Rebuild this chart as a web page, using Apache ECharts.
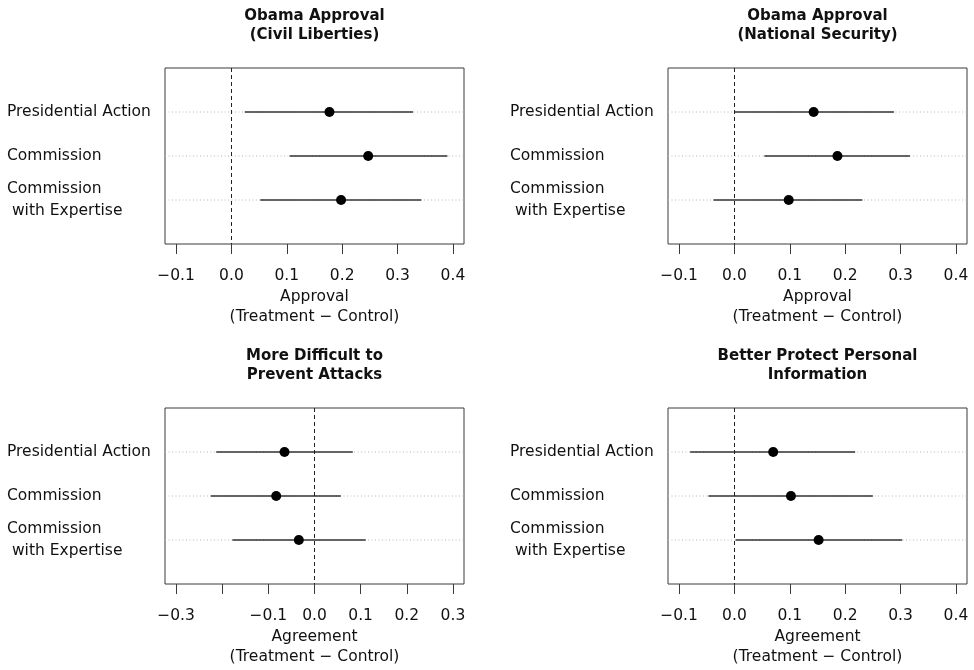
<!DOCTYPE html>
<html>
<head>
<meta charset="utf-8">
<script src="https://cdn.jsdelivr.net/npm/echarts@6/dist/echarts.min.js"></script>
<style>html,body{margin:0;padding:0;background:#fff}#c{width:974px;height:670px}</style>
</head>
<body>
<div id="c"></div>
<script>
// ---- data ----
const categories = ['Presidential Action', 'Commission', 'Commission\n with Expertise'];

const titles = [
  'Obama Approval\n(Civil Liberties)',
  'Obama Approval\n(National Security)',
  'More Difficult to\nPrevent Attacks',
  'Better Protect Personal\nInformation'
];
const axisNames = [
  'Approval\n(Treatment \u2212 Control)',
  'Approval\n(Treatment \u2212 Control)',
  'Agreement\n(Treatment \u2212 Control)',
  'Agreement\n(Treatment \u2212 Control)'
];

const civilEst = [0.177, 0.247, 0.198];
const civilLo  = [0.024, 0.105, 0.052];
const civilHi  = [0.328, 0.390, 0.343];

const nationalEst = [0.143, 0.186, 0.098];
const nationalLo  = [0.000, 0.054, -0.038];
const nationalHi  = [0.288, 0.317, 0.231];

const attacksEst = [-0.065, -0.083, -0.034];
const attacksLo  = [-0.213, -0.225, -0.178];
const attacksHi  = [0.083, 0.057, 0.111];

const infoEst = [0.070, 0.102, 0.152];
const infoLo  = [-0.080, -0.047, 0.002];
const infoHi  = [0.218, 0.250, 0.303];

const approvalTicks = [-0.1, 0, 0.1, 0.2, 0.3, 0.4];
const attacksTicks = [-0.3, -0.2, -0.1, 0, 0.1, 0.2, 0.3];
const attacksHiddenLabels = [-0.2];

// ---- layout / styling ----
const panels = [
  {est: civilEst, lo: civilLo, hi: civilHi, ticks: approvalTicks, hidden: []},
  {est: nationalEst, lo: nationalLo, hi: nationalHi, ticks: approvalTicks, hidden: []},
  {est: attacksEst, lo: attacksLo, hi: attacksHi, ticks: attacksTicks, hidden: attacksHiddenLabels},
  {est: infoEst, lo: infoLo, hi: infoHi, ticks: approvalTicks, hidden: []}
];
const boxes = [
  {left: 165, top: 68}, {left: 668, top: 68},
  {left: 165, top: 408}, {left: 668, top: 408}
];
const BW = 299, BH = 176;
const FONT = '"DejaVu Sans", "Liberation Sans", Arial, sans-serif';
const TXT = '#111';

const option = {
  animation: false,
  backgroundColor: '#fff',
  title: [], grid: [], xAxis: [], yAxis: [], series: []
};

function fmt(v) {
  return v.toFixed(1).replace('-', '\u2212');
}

panels.forEach((p, i) => {
  const b = boxes[i];
  const tmin = p.ticks[0], tmax = p.ticks[p.ticks.length - 1];
  const pad = (tmax - tmin) * 0.04;
  option.title.push({
    text: titles[i],
    left: b.left + BW / 2,
    top: b.top - 62,
    textAlign: 'center',
    padding: 0,
    textStyle: {fontFamily: FONT, fontWeight: 'bold', fontSize: 15, lineHeight: 19.5, color: TXT}
  });
  option.grid.push({
    left: b.left, top: b.top, width: BW, height: BH,
    show: true, borderColor: '#3a3a3a', borderWidth: 1, backgroundColor: 'transparent'
  });
  option.xAxis.push({
    type: 'value', gridIndex: i, min: tmin - pad, max: tmax + pad, position: 'bottom',
    axisLine: {show: false, onZero: false},
    splitLine: {show: false},
    axisTick: {show: true, inside: false, length: 10, customValues: p.ticks,
      lineStyle: {color: '#3a3a3a', width: 1}},
    axisLabel: {customValues: p.ticks, margin: 23, fontFamily: FONT, fontSize: 15.5,
      lineHeight: 18, color: TXT,
      formatter: v => (p.hidden.some(h => Math.abs(h - v) < 1e-9) ? '' : fmt(v))},
    name: axisNames[i], nameLocation: 'middle', nameGap: 43,
    nameTextStyle: {fontFamily: FONT, fontSize: 15.5, lineHeight: 20, color: TXT}
  });
  option.yAxis.push({
    type: 'value', gridIndex: i, min: 0, max: categories.length + 1, inverse: true,
    axisLine: {show: false, onZero: false}, axisTick: {show: false}, splitLine: {show: false},
    axisLabel: {customValues: categories.map((c, k) => k + 1), margin: 158, align: 'left',
      fontFamily: FONT, fontSize: 15.5, lineHeight: 21.5, color: TXT,
      formatter: v => categories[Math.round(v) - 1] || ''}
  });
  option.series.push({
    type: 'custom', xAxisIndex: i, yAxisIndex: i,
    encode: {x: [1, 2], y: 0},
    data: categories.map((c, k) => [k + 1, p.lo[k], p.hi[k]]),
    renderItem: (params, api) => {
      const row = api.value(0);
      const a = api.coord([api.value(1), row]);
      const c = api.coord([api.value(2), row]);
      const cs = params.coordSys;
      return {type: 'group', children: [
        {type: 'line', shape: {x1: cs.x, y1: a[1], x2: cs.x + cs.width, y2: a[1]},
          style: {stroke: '#b8b8b8', lineWidth: 1, lineDash: [1, 2.5]}},
        {type: 'line', shape: {x1: a[0], y1: a[1], x2: c[0], y2: c[1]},
          style: {stroke: '#333', lineWidth: 1.6}}
      ]};
    },
    z: 2
  });
  option.series.push({
    type: 'scatter', xAxisIndex: i, yAxisIndex: i,
    data: categories.map((c, k) => [p.est[k], k + 1]),
    symbol: 'circle', symbolSize: 10,
    itemStyle: {color: '#000', opacity: 1},
    z: 4,
    markLine: {
      silent: true, symbol: 'none', label: {show: false},
      lineStyle: {color: '#222', type: [4, 3], width: 1},
      data: [{xAxis: 0}]
    }
  });
});

const chart = echarts.init(document.getElementById('c'), null, {renderer: 'canvas'});
chart.setOption(option);
</script>
</body>
</html>
